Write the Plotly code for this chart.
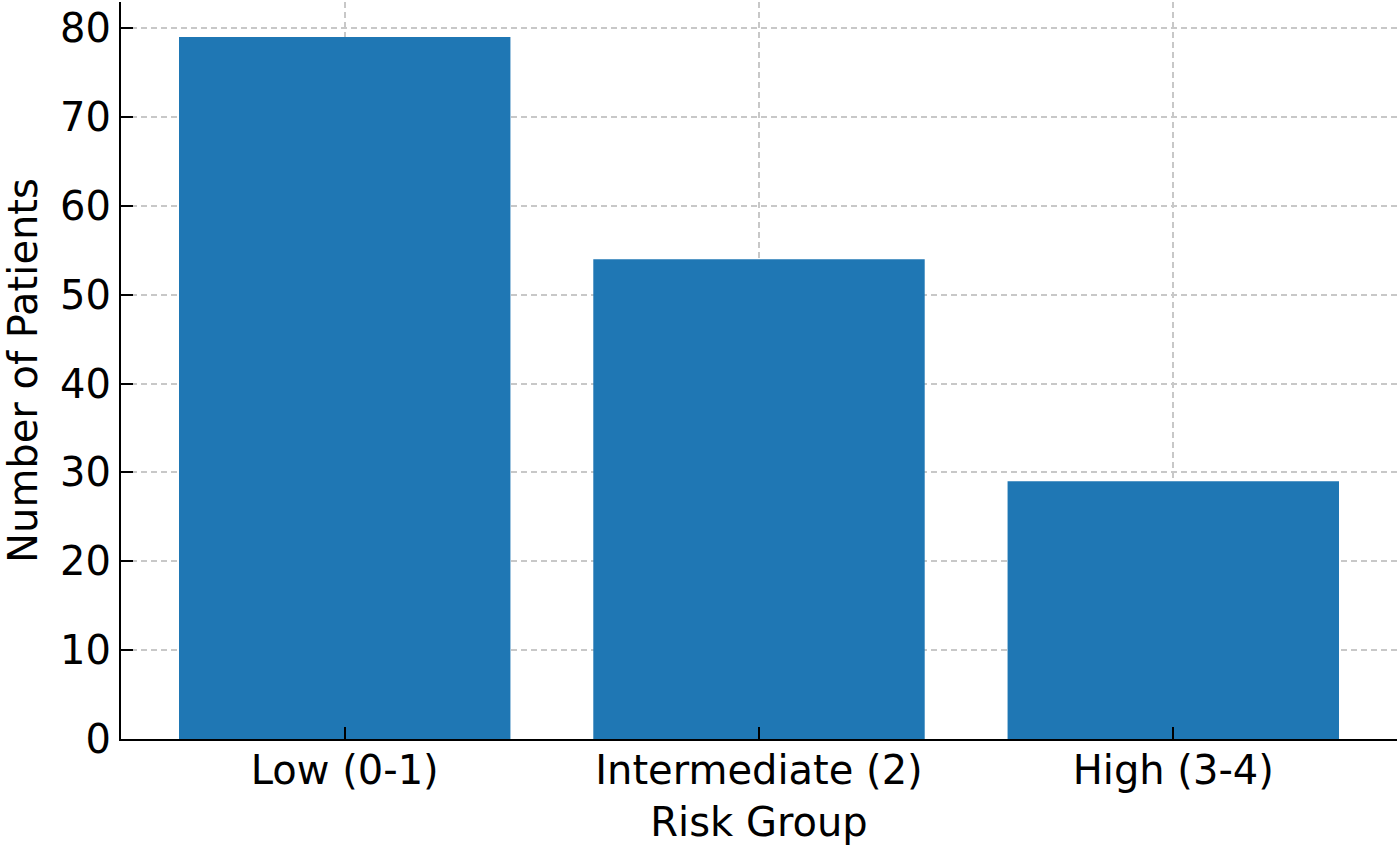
import plotly.graph_objects as go

categories = ["Low (0-1)", "Intermediate (2)", "High (3-4)"]
patients = [79, 54, 29]

fig = go.Figure()
fig.add_trace(go.Bar(
    x=categories, y=patients, width=0.8,
    marker=dict(color="#1f77b4", line=dict(width=0)),
))

font = dict(family="DejaVu Sans", size=40, color="black")

fig.update_layout(
    width=1400, height=846,
    margin=dict(l=121, r=3, t=2, b=107, autoexpand=False),
    paper_bgcolor="white", plot_bgcolor="white",
    showlegend=False,
    font=font,
    bargap=0.2,
)
fig.update_xaxes(
    range=[-0.54, 2.54], automargin=False,
    showline=True, linecolor="black", linewidth=2,
    ticks="inside", ticklen=12, tickwidth=2, tickcolor="black",
    ticklabelstandoff=-5,
    showgrid=True, gridcolor="#c8c8c8", gridwidth=1.5, griddash="6px,4px",
    layer="above traces",
    tickfont=font,
    title=dict(text="Risk Group", font=font, standoff=16),
)
fig.update_yaxes(
    range=[0, 82.95], automargin=False,
    tickvals=[0, 10, 20, 30, 40, 50, 60, 70, 80],
    showline=True, linecolor="black", linewidth=2,
    ticks="inside", ticklen=12, tickwidth=2, tickcolor="black",
    showgrid=True, gridcolor="#c8c8c8", gridwidth=1.5, griddash="6px,4px",
    zeroline=False,
    layer="above traces",
    tickfont=font,
    title=dict(text="Number of Patients", font=font, standoff=16),
)

fig.write_html(
    "out.html",
    config={"displayModeBar": False},
    post_script="document.body.style.margin='0';document.body.style.overflow='hidden';",
)
